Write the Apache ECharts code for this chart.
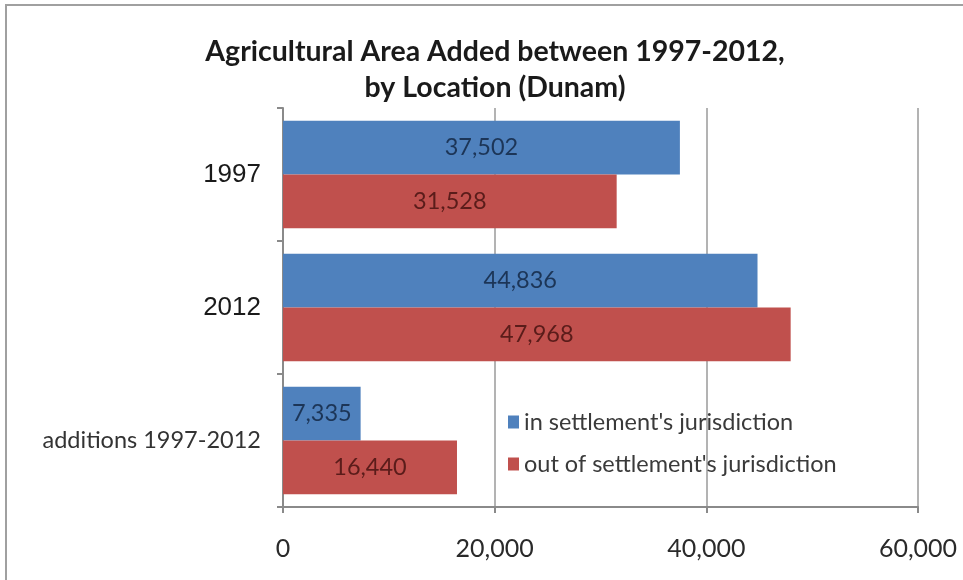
<!DOCTYPE html>
<html>
<head>
<meta charset="utf-8">
<script src="https://cdn.jsdelivr.net/npm/echarts@6/dist/echarts.min.js"></script>
<style>html,body{margin:0;padding:0;background:#fff}#c{width:963px;height:580px}</style>
</head>
<body>
<div id="c"></div>
<script>
const categories = ['1997', '2012', 'additions 1997-2012'];
const seriesNames = ["in settlement's jurisdiction", "out of settlement's jurisdiction"];
const inJurisdiction = [37502, 44836, 7335];
const outJurisdiction = [31528, 47968, 16440];
const xTicks = [0, 20000, 40000, 60000];

const fmt = v => String(v).replace(/\B(?=(\d{3})+(?!\d))/g, ',');

const chart = echarts.init(document.getElementById('c'), null, {renderer: 'canvas'});
chart.setOption({
  backgroundColor: '#fff',
  animation: false,
  graphic: [{
    type: 'rect', shape: {x: 6, y: 5, width: 970, height: 590},
    style: {fill: 'none', stroke: '#a0a0a0', lineWidth: 2}, z: -1
  }],
  title: {
    text: 'Agricultural Area Added between 1997-2012,\nby Location (Dunam)',
    left: 490, top: 29, textAlign: 'center',
    textStyle: {fontFamily: 'Lato', fontWeight: 'bold', fontSize: 28.5, color: '#1a1a1a', lineHeight: 36}
  },
  legend: {
    orient: 'vertical', left: 503, top: 405,
    itemWidth: 11, itemHeight: 13, itemGap: 18, icon: 'rect',
    textStyle: {fontFamily: 'Lato', fontSize: 23.5, color: '#3a3a3a'},
    data: seriesNames
  },
  grid: {left: 283, right: 45, top: 108, bottom: 73},
  xAxis: {
    type: 'value', min: xTicks[0], max: xTicks[xTicks.length - 1], interval: 20000,
    axisLine: {show: true, lineStyle: {color: '#8a8a8a', width: 2}},
    axisTick: {show: true, length: 6, lineStyle: {color: '#8a8a8a', width: 2}},
    splitLine: {show: true, lineStyle: {color: '#9a9a9a', width: 1.5}},
    axisLabel: {margin: 29, fontFamily: 'Lato', fontSize: 25, color: '#2a2a2a', formatter: v => fmt(v)}
  },
  yAxis: {
    type: 'category', inverse: true, data: categories,
    axisLine: {show: true, lineStyle: {color: '#8a8a8a', width: 2}},
    axisTick: {show: true, length: 6, lineStyle: {color: '#8a8a8a', width: 2}},
    axisLabel: {
      margin: 22,
      formatter: v => /^\d+$/.test(v) ? '{a|' + v + '}' : '{b|' + v + '}',
      rich: {
        a: {fontFamily: 'Liberation Sans', fontSize: 26, color: '#1a1a1a'},
        b: {fontFamily: 'Lato', fontSize: 23.5, color: '#333'}
      }
    }
  },
  series: [
    {
      name: seriesNames[0], type: 'bar', data: inJurisdiction,
      barGap: '0%', barCategoryGap: '19%',
      itemStyle: {color: '#4F81BD'},
      label: {show: true, position: 'inside', formatter: p => fmt(p.value),
        fontFamily: 'Lato', fontSize: 23.5, color: '#1c3557'}
    },
    {
      name: seriesNames[1], type: 'bar', data: outJurisdiction,
      barGap: '0%', barCategoryGap: '19%',
      itemStyle: {color: '#C0504D'},
      label: {show: true, position: 'inside', formatter: p => fmt(p.value),
        fontFamily: 'Lato', fontSize: 23.5, color: '#5a1c1a'}
    }
  ]
});
</script>
</body>
</html>
